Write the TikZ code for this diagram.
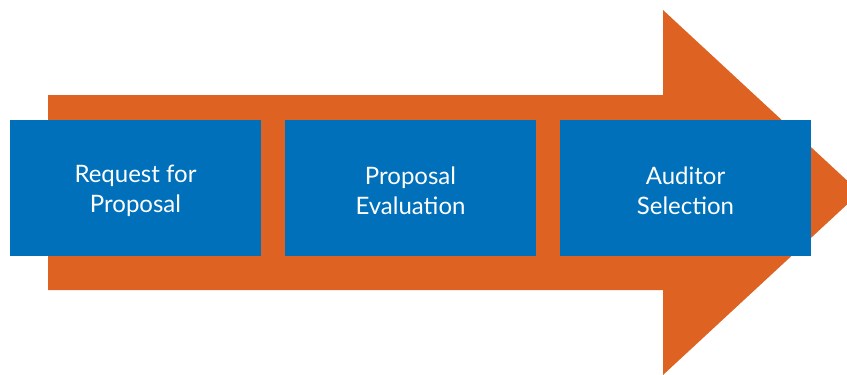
\documentclass[tikz,border=0pt]{standalone}
\usepackage{fontspec}
\setmainfont{Lato}
\definecolor{arroworange}{HTML}{DE6221}
\definecolor{boxblue}{HTML}{0070BA}
\begin{document}
\begin{tikzpicture}[x=1pt,y=-1pt,
  stepbox/.style={fill=boxblue, draw=none, minimum width=251pt, minimum height=136pt,
    inner sep=0pt},
  steptext/.style={inner sep=0pt, align=center, text=white,
    font=\fontsize{24}{29.5}\selectfont}]
  \useasboundingbox (0,0) rectangle (847,375);
  \clip (0,0) rectangle (847,375);
  \fill[arroworange] (48,95) -- (663,95) -- (663,10) -- (860,192.5) -- (663,375)
    -- (663,290) -- (48,290) -- cycle;
  \node[stepbox] (b1) at (135.5,188) {};
  \node[stepbox] (b2) at (410.5,188) {};
  \node[stepbox] (b3) at (685.5,188) {};
  \node[steptext] (t1) at ([yshift=-3pt]b1.center) {Request for\\Proposal};
  \node[steptext] (t2) at ([yshift=-3pt]b2.center) {Proposal\\Evaluation};
  \node[steptext] (t3) at ([yshift=-3pt]b3.center) {Auditor\\Selection};
\end{tikzpicture}
\end{document}
